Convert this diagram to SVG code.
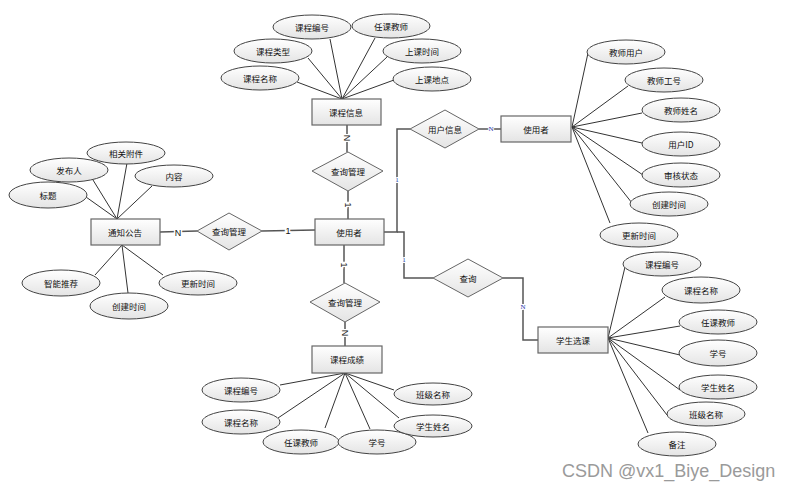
<svg xmlns="http://www.w3.org/2000/svg" width="793" height="490" viewBox="0 0 793 490">
<defs>
<linearGradient id="g" x1="0" y1="0" x2="0" y2="1">
<stop offset="0" stop-color="#ffffff"/>
<stop offset="1" stop-color="#e4e4e4"/>
</linearGradient>
<style>
.ent{fill:url(#g);stroke:#666;stroke-width:1.2}
.att{fill:url(#g);stroke:#444;stroke-width:1}
.rel{fill:url(#g);stroke:#666;stroke-width:1}
.t{font-family:"Noto Sans CJK SC","Liberation Sans",sans-serif;font-size:8.5px;fill:#111;text-anchor:middle;dominant-baseline:central}
.al{stroke:#333;stroke-width:1;fill:none}
.cl{stroke:#555;stroke-width:1.5;fill:none}
.lb{font-family:"Liberation Sans",sans-serif;font-size:9px;fill:#111;text-anchor:middle;dominant-baseline:central;stroke:#fff;stroke-width:3;paint-order:stroke}
.lbb{font-family:"Liberation Serif",serif;font-size:7px;fill:#2233aa;text-anchor:middle;dominant-baseline:central;stroke:#fff;stroke-width:2;paint-order:stroke}
.wm{font-family:"Liberation Sans",sans-serif;font-size:18px;fill:#9a9a9a}
</style>
</defs>
<rect width="793" height="490" fill="#fff"/>

<g id="connectors">
<line class="al" x1="342" y1="99" x2="330" y2="39"/>
<line class="al" x1="342" y1="99" x2="375" y2="38"/>
<line class="al" x1="342" y1="99" x2="308" y2="58"/>
<line class="al" x1="342" y1="99" x2="387" y2="57"/>
<line class="al" x1="342" y1="99" x2="297" y2="82"/>
<line class="al" x1="342" y1="99" x2="394" y2="80"/>
<line class="al" x1="117" y1="219" x2="86" y2="197"/>
<line class="al" x1="117" y1="219" x2="93" y2="180"/>
<line class="al" x1="117" y1="219" x2="127" y2="163"/>
<line class="al" x1="117" y1="219" x2="152" y2="186"/>
<line class="al" x1="122" y1="245" x2="95" y2="275"/>
<line class="al" x1="122" y1="245" x2="128" y2="293"/>
<line class="al" x1="122" y1="245" x2="163" y2="275"/>
<line class="al" x1="572" y1="127" x2="588" y2="53"/>
<line class="al" x1="572" y1="127" x2="628" y2="86"/>
<line class="al" x1="572" y1="127" x2="642" y2="113"/>
<line class="al" x1="572" y1="127" x2="642" y2="143"/>
<line class="al" x1="572" y1="127" x2="643" y2="175"/>
<line class="al" x1="572" y1="127" x2="632" y2="203"/>
<line class="al" x1="572" y1="127" x2="610" y2="223"/>
<line class="al" x1="608" y1="338" x2="625" y2="267"/>
<line class="al" x1="608" y1="338" x2="665" y2="297"/>
<line class="al" x1="608" y1="338" x2="680" y2="326"/>
<line class="al" x1="608" y1="338" x2="680" y2="355"/>
<line class="al" x1="608" y1="338" x2="680" y2="390"/>
<line class="al" x1="608" y1="338" x2="667" y2="415"/>
<line class="al" x1="608" y1="338" x2="648" y2="433"/>
<line class="al" x1="345" y1="373" x2="280" y2="385"/>
<line class="al" x1="345" y1="373" x2="278" y2="418"/>
<line class="al" x1="345" y1="373" x2="325" y2="428"/>
<line class="al" x1="345" y1="373" x2="370" y2="429"/>
<line class="al" x1="345" y1="373" x2="394" y2="390"/>
<line class="al" x1="345" y1="373" x2="399" y2="418"/>

<line class="cl" x1="347" y1="125" x2="347" y2="152"/>
<line class="cl" x1="348" y1="191" x2="348" y2="219"/>
<line class="cl" x1="344" y1="245" x2="344" y2="283"/>
<line class="cl" x1="345" y1="322" x2="345" y2="346"/>
<line class="cl" x1="160" y1="232" x2="197" y2="231"/>
<line class="cl" x1="262" y1="231" x2="315" y2="230"/>
<polyline class="cl" points="384,232 397,232 397,129 410,129"/>
<polyline class="cl" points="397,232 404,232 404,278 433,278"/>
<line class="cl" x1="479" y1="129" x2="501" y2="129"/>
<polyline class="cl" points="503,278 523,278 523,340 538,340"/>

<text class="lb" x="347" y="138" transform="rotate(90 347 138)">N</text>
<text class="lb" x="348" y="205" transform="rotate(90 348 205)">1</text>
<text class="lb" x="344" y="265" transform="rotate(90 344 265)">1</text>
<text class="lb" x="345" y="333" transform="rotate(90 345 333)">N</text>
<text class="lb" x="178" y="233">N</text>
<text class="lb" x="288" y="231">1</text>
<text class="lbb" x="397" y="180">1</text>
<text class="lbb" x="404" y="260">1</text>
<text class="lbb" x="491" y="129">N</text>
<text class="lbb" x="523" y="307">N</text>
</g>

<g id="e-course">
<rect class="ent" x="312" y="99" width="69" height="26"/>
<text class="t" x="346" y="112">课程信息</text>
</g>
<g id="a-c1"><ellipse class="att" cx="312" cy="27" rx="39" ry="12"/><text class="t" x="312" y="27">课程编号</text></g>
<g id="a-c2"><ellipse class="att" cx="391" cy="26" rx="39" ry="12"/><text class="t" x="391" y="26">任课教师</text></g>
<g id="a-c3"><ellipse class="att" cx="273" cy="51" rx="39" ry="12"/><text class="t" x="273" y="51">课程类型</text></g>
<g id="a-c4"><ellipse class="att" cx="422" cy="51" rx="39" ry="12"/><text class="t" x="422" y="51">上课时间</text></g>
<g id="a-c5"><ellipse class="att" cx="260" cy="78" rx="39" ry="12"/><text class="t" x="260" y="78">课程名称</text></g>
<g id="a-c6"><ellipse class="att" cx="432" cy="79" rx="39" ry="12"/><text class="t" x="432" y="79">上课地点</text></g>

<g id="r-top">
<polygon class="rel" points="348,152 383,171 348,191 312,171"/>
<text class="t" x="348" y="171">查询管理</text>
</g>

<g id="e-user">
<rect class="ent" x="315" y="219" width="69" height="26"/>
<text class="t" x="349" y="232">使用者</text>
</g>

<g id="r-bottom">
<polygon class="rel" points="345,283 380,302 345,322 310,302"/>
<text class="t" x="345" y="302">查询管理</text>
</g>

<g id="e-score">
<rect class="ent" x="312" y="346" width="70" height="27"/>
<text class="t" x="347" y="359">课程成绩</text>
</g>
<g id="a-s1"><ellipse class="att" cx="241" cy="390" rx="39" ry="12"/><text class="t" x="241" y="390">课程编号</text></g>
<g id="a-s2"><ellipse class="att" cx="241" cy="422" rx="39" ry="12"/><text class="t" x="241" y="422">课程名称</text></g>
<g id="a-s3"><ellipse class="att" cx="301" cy="442" rx="38" ry="12"/><text class="t" x="301" y="442">任课教师</text></g>
<g id="a-s4"><ellipse class="att" cx="377" cy="442" rx="39" ry="12"/><text class="t" x="377" y="442">学号</text></g>
<g id="a-s5"><ellipse class="att" cx="433" cy="394" rx="39" ry="11"/><text class="t" x="433" y="394">班级名称</text></g>
<g id="a-s6"><ellipse class="att" cx="433" cy="426" rx="39" ry="11"/><text class="t" x="433" y="426">学生姓名</text></g>

<g id="e-notice">
<rect class="ent" x="91" y="219" width="69" height="26"/>
<text class="t" x="125" y="232">通知公告</text>
</g>
<g id="a-n1"><ellipse class="att" cx="126" cy="153" rx="39" ry="11"/><text class="t" x="126" y="153">相关附件</text></g>
<g id="a-n2"><ellipse class="att" cx="69" cy="170" rx="39" ry="12"/><text class="t" x="69" y="170">发布人</text></g>
<g id="a-n3"><ellipse class="att" cx="174" cy="176" rx="39" ry="11"/><text class="t" x="174" y="176">内容</text></g>
<g id="a-n4"><ellipse class="att" cx="48" cy="195" rx="39" ry="13"/><text class="t" x="48" y="195">标题</text></g>
<g id="a-n5"><ellipse class="att" cx="61" cy="283" rx="39" ry="13"/><text class="t" x="61" y="283">智能推荐</text></g>
<g id="a-n6"><ellipse class="att" cx="129" cy="306" rx="39" ry="13"/><text class="t" x="129" y="306">创建时间</text></g>
<g id="a-n7"><ellipse class="att" cx="198" cy="283" rx="39" ry="12"/><text class="t" x="198" y="283">更新时间</text></g>

<g id="r-left">
<polygon class="rel" points="229,213 262,231 229,250 197,231"/>
<text class="t" x="229" y="231">查询管理</text>
</g>

<g id="r-userinfo">
<polygon class="rel" points="445,110 479,129 445,148 410,129"/>
<text class="t" x="445" y="129">用户信息</text>
</g>
<g id="e-user2">
<rect class="ent" x="501" y="116" width="70" height="26"/>
<text class="t" x="536" y="129">使用者</text>
</g>
<g id="a-u1"><ellipse class="att" cx="626" cy="52" rx="39" ry="12"/><text class="t" x="626" y="52">教师用户</text></g>
<g id="a-u2"><ellipse class="att" cx="664" cy="80" rx="39" ry="12"/><text class="t" x="664" y="80">教师工号</text></g>
<g id="a-u3"><ellipse class="att" cx="681" cy="110" rx="39" ry="12"/><text class="t" x="681" y="110">教师姓名</text></g>
<g id="a-u4"><ellipse class="att" cx="681" cy="144" rx="39" ry="12"/><text class="t" x="681" y="144">用户ID</text></g>
<g id="a-u5"><ellipse class="att" cx="681" cy="175" rx="39" ry="12"/><text class="t" x="681" y="175">审核状态</text></g>
<g id="a-u6"><ellipse class="att" cx="669" cy="204" rx="39" ry="12"/><text class="t" x="669" y="204">创建时间</text></g>
<g id="a-u7"><ellipse class="att" cx="639" cy="235" rx="39" ry="12"/><text class="t" x="639" y="235">更新时间</text></g>

<g id="r-query">
<polygon class="rel" points="468,259 503,278 468,297 433,278"/>
<text class="t" x="468" y="278">查询</text>
</g>
<g id="e-select">
<rect class="ent" x="538" y="327" width="70" height="26"/>
<text class="t" x="573" y="340">学生选课</text>
</g>
<g id="a-x1"><ellipse class="att" cx="662" cy="264" rx="39" ry="12"/><text class="t" x="662" y="264">课程编号</text></g>
<g id="a-x2"><ellipse class="att" cx="701" cy="290" rx="39" ry="13"/><text class="t" x="701" y="290">课程名称</text></g>
<g id="a-x3"><ellipse class="att" cx="718" cy="322" rx="39" ry="12"/><text class="t" x="718" y="322">任课教师</text></g>
<g id="a-x4"><ellipse class="att" cx="718" cy="353" rx="39" ry="13"/><text class="t" x="718" y="353">学号</text></g>
<g id="a-x5"><ellipse class="att" cx="718" cy="387" rx="39" ry="12"/><text class="t" x="718" y="387">学生姓名</text></g>
<g id="a-x6"><ellipse class="att" cx="706" cy="414" rx="39" ry="12"/><text class="t" x="706" y="414">班级名称</text></g>
<g id="a-x7"><ellipse class="att" cx="677" cy="444" rx="39" ry="12"/><text class="t" x="677" y="444">备注</text></g>

<text class="wm" x="562" y="477">CSDN @vx1_Biye_Design</text>
</svg>
